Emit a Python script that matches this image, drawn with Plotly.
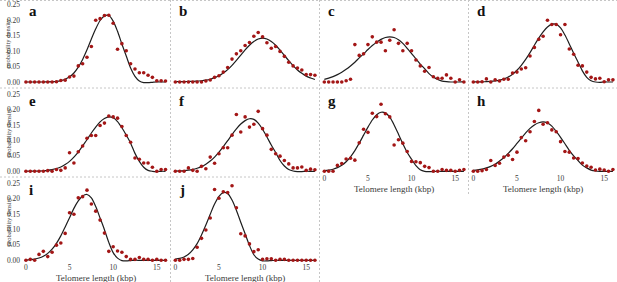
import plotly.graph_objects as go

# ---------------- data ----------------
X_KBP = [0, 0.5, 1, 1.5, 2, 2.5, 3, 3.5, 4, 4.5, 5, 5.5, 6, 6.5, 7, 7.5, 8,
         8.5, 9, 9.5, 10, 10.5, 11, 11.5, 12, 12.5, 13, 13.5, 14, 14.5, 15, 15.5, 16]
PANEL_LABELS = ["a", "b", "c", "d", "e", "f", "g", "h", "i", "j"]
X_TICKS = [0, 5, 10, 15]
X_TICK_LABELS = ["0", "5", "10", "15"]
Y_TICKS = [0.0, 0.05, 0.10, 0.15, 0.20, 0.25]
Y_TICK_LABELS = ["0.00", "0.05", "0.10", "0.15", "0.20", "0.25"]
X_TITLE = "Telomere length (kbp)"
Y_TITLE = "probability density"

dots_a = [0, 0, 0, 0, 0, 0, 0, 0.001, 0.005, 0.006, 0.016, 0.019, 0.052, 0.059, 0.08, 0.115, 0.2,
          0.205, 0.215, 0.216, 0.19, 0.106, 0.124, 0.101, 0.059, 0.042, 0.03, 0.03, 0.022, 0.015, 0.004, 0.004, 0.003]
fit_a = [0, 0, 0, 0, 0.0001, 0.0003, 0.0009, 0.002, 0.0044, 0.0089, 0.0167, 0.029, 0.048, 0.073, 0.104, 0.139, 0.172,
         0.199, 0.214, 0.215, 0.197, 0.164, 0.123, 0.084, 0.045, 0.018, 0.003, -0.002, -0.002, -0.001, 0, 0, 0]

dots_b = [0, 0, 0, 0, 0, 0, 0, 0.003, 0.0065, 0.015, 0.02, 0.032, 0.047, 0.074, 0.091, 0.101, 0.118,
          0.128, 0.148, 0.16, 0.146, 0.127, 0.109, 0.115, 0.099, 0.083, 0.064, 0.052, 0.045, 0.039, 0.024, 0.024, 0.022]
fit_b = [0.001, 0.001, 0.001, 0.002, 0.002, 0.003, 0.004, 0.006, 0.009, 0.014, 0.02, 0.029, 0.04, 0.054, 0.07, 0.087, 0.104,
         0.119, 0.131, 0.139, 0.142, 0.139, 0.131, 0.119, 0.103, 0.086, 0.069, 0.053, 0.039, 0.028, 0.019, 0.013, 0.008]

dots_c = [0, 0, 0, 0, 0, 0.004, 0.009, 0.121, 0.086, 0.091, 0.121, 0.146, 0.129, 0.129, 0.101, 0.135, 0.169,
          0.125, 0.101, 0.125, 0.101, 0.071, 0.052, 0.035, 0.047, 0.017, 0.012, 0.012, 0.023, 0.012, 0.0, 0.007, 0.0]
fit_c = [0.0087, 0.0125, 0.0175, 0.0238, 0.0316, 0.041, 0.052, 0.064, 0.078, 0.091, 0.105, 0.118, 0.129, 0.138, 0.144, 0.146,
         0.144, 0.137, 0.125, 0.109, 0.092, 0.075, 0.058, 0.043, 0.027, 0.016, 0.008, 0.003, 0.001, 0, 0, 0, 0.001]

dots_d = [0, 0, 0.001, 0.01, 0, 0.007, 0.003, 0.009, 0.009, 0.029, 0.032, 0.042, 0.046, 0.084, 0.112, 0.138, 0.148,
          0.2, 0.186, 0.186, 0.153, 0.186, 0.107, 0.09, 0.054, 0.052, 0.032, 0.015, 0.01, 0.012, 0.001, 0.007, 0.007]
fit_d = [0.0001, 0.0003, 0.0005, 0.001, 0.0018, 0.0034, 0.006, 0.01, 0.016, 0.025, 0.038, 0.054, 0.073, 0.095, 0.119, 0.142,
         0.162, 0.178, 0.187, 0.187, 0.175, 0.152, 0.123, 0.093, 0.065, 0.036, 0.015, 0.004, 0.0, -0.001, 0, 0, 0]

dots_e = [0, 0, 0, 0, 0, 0.002, 0, 0.006, 0.003, 0.011, 0.06, 0.027, 0.063, 0.082, 0.107, 0.116, 0.116,
          0.148, 0.156, 0.179, 0.176, 0.172, 0.145, 0.116, 0.094, 0.043, 0.039, 0.027, 0.027, 0.013, 0.0, 0.006, 0.006]
fit_e = [0.0001, 0.0003, 0.0005, 0.0009, 0.0017, 0.0031, 0.0054, 0.009, 0.014, 0.022, 0.032, 0.046, 0.062, 0.082, 0.102, 0.124,
         0.143, 0.16, 0.171, 0.176, 0.173, 0.161, 0.141, 0.117, 0.091, 0.058, 0.032, 0.013, 0.003, 0, -0.001, 0, 0]

dots_f = [0, 0, 0, 0.011, 0.003, 0, 0.016, 0.008, 0.046, 0.026, 0.057, 0.076, 0.076, 0.117, 0.184, 0.127, 0.176,
          0.143, 0.152, 0.194, 0.138, 0.117, 0.071, 0.057, 0.049, 0.035, 0.024, 0.011, 0.011, 0.014, 0.003, 0.007, 0.005]
fit_f = [0.0006, 0.0012, 0.0021, 0.0037, 0.0061, 0.0099, 0.015, 0.023, 0.033, 0.046, 0.062, 0.08, 0.099, 0.119, 0.137, 0.153,
         0.164, 0.17, 0.168, 0.156, 0.136, 0.111, 0.085, 0.061, 0.035, 0.017, 0.006, 0.001, -0.001, -0.001, 0, 0, 0]

dots_g = [0, 0, 0, 0.019, 0.025, 0.04, 0.042, 0.036, 0.092, 0.136, 0.126, 0.188, 0.177, 0.217, 0.186, 0.176, 0.085,
          0.102, 0.091, 0.064, 0.032, 0.031, 0.028, 0.016, 0.012, 0, 0, 0.006, 0.003, 0.003, 0, 0.003, 0.006]
fit_g = [0.0019, 0.0037, 0.0067, 0.0118, 0.0196, 0.031, 0.047, 0.067, 0.091, 0.117, 0.143, 0.166, 0.183, 0.191, 0.189, 0.175,
         0.15, 0.12, 0.089, 0.061, 0.039, 0.018, 0.005, 0, -0.001, -0.001, 0, 0, 0, 0, 0, 0, 0]

dots_h = [0, 0, 0.002, 0.006, 0.035, 0.019, 0.026, 0.046, 0.052, 0.038, 0.062, 0.109, 0.099, 0.128, 0.161, 0.197, 0.152,
          0.157, 0.134, 0.128, 0.096, 0.064, 0.062, 0.043, 0.041, 0.027, 0.017, 0.013, 0.004, 0.007, 0.004, 0, 0.006]
fit_h = [0.0027, 0.0045, 0.007, 0.0109, 0.016, 0.023, 0.033, 0.044, 0.058, 0.073, 0.09, 0.107, 0.124, 0.139, 0.15, 0.157,
         0.16, 0.156, 0.146, 0.129, 0.11, 0.089, 0.068, 0.05, 0.035, 0.02, 0.011, 0.004, 0.001, 0, 0, 0, 0]

dots_i = [0, 0.003, 0, 0.019, 0.029, 0.012, 0.026, 0.049, 0.056, 0.087, 0.154, 0.149, 0.202, 0.206, 0.227, 0.182, 0.159,
          0.13, 0.088, 0.029, 0.044, 0.03, 0.026, 0.012, 0.003, 0.003, 0.009, 0.003, 0.003, 0, 0.003, 0, 0]
fit_i = [0.0009, 0.0019, 0.0038, 0.0073, 0.0132, 0.0224, 0.036, 0.055, 0.079, 0.108, 0.138, 0.168, 0.192, 0.208, 0.213, 0.202,
         0.174, 0.137, 0.099, 0.058, 0.025, 0.007, -0.001, -0.002, -0.001, 0, 0, 0, 0, 0, 0, 0, 0]

dots_j = [0, 0, 0.003, 0.003, 0.006, 0.042, 0.071, 0.098, 0.137, 0.229, 0.201, 0.222, 0.219, 0.241, 0.17, 0.086, 0.079,
          0.053, 0.028, 0.034, 0.003, 0.005, 0.005, 0, 0.003, 0.003, 0, 0, 0, 0, 0, 0, 0]
fit_j = [0.004, 0.006, 0.0106, 0.0196, 0.034, 0.054, 0.082, 0.114, 0.149, 0.182, 0.207, 0.219, 0.216, 0.195, 0.162, 0.123,
         0.086, 0.048, 0.018, 0.004, -0.002, -0.002, -0.001, 0, 0, 0, 0, 0, 0, 0, 0, 0, 0]

DOTS = [dots_a, dots_b, dots_c, dots_d, dots_e, dots_f, dots_g, dots_h, dots_i, dots_j]
FITS = [fit_a, fit_b, fit_c, fit_d, fit_e, fit_f, fit_g, fit_h, fit_i, fit_j]

# ---------------- layout / style ----------------
W, H = 617, 282
COLS_PX = [(22, 169), (171.4, 318.4), (320.4, 467.4), (469.4, 616.4)]
ROWS_PX = [(0.1, 85.7), (89.4, 175.0), (178.4, 264.0)]
GRID_POS = [(0, 0), (0, 1), (0, 2), (0, 3), (1, 0), (1, 1), (1, 2), (1, 3), (2, 0), (2, 1)]
SERIF = "Liberation Serif"
DOT_COLOR = "#a31616"
LINE_COLOR = "#1e1e1e"
DIV_COLOR = "#c6c6c6"
TEXT_COLOR = "#3a3a3a"

fig = go.Figure()
layout = {}
annotations = []
shapes = []

for k, label in enumerate(PANEL_LABELS):
    n = k + 1
    r, c = GRID_POS[k]
    sfx = "" if n == 1 else str(n)
    xa, ya = "x" + sfx, "y" + sfx
    fig.add_trace(go.Scatter(x=X_KBP, y=FITS[k], mode="lines",
                             line=dict(color=LINE_COLOR, width=1.2, shape="spline", smoothing=0.8),
                             xaxis=xa, yaxis=ya, showlegend=False, hoverinfo="skip"))
    fig.add_trace(go.Scatter(x=X_KBP, y=DOTS[k], mode="markers", cliponaxis=False,
                             marker=dict(color=DOT_COLOR, size=3.6),
                             xaxis=xa, yaxis=ya, showlegend=False))
    x0p, x1p = COLS_PX[c]
    y0p, y1p = ROWS_PX[r]
    bottom = (r == 2) or label in ("g", "h")
    layout["xaxis" + sfx] = dict(
        domain=[x0p / W, x1p / W], range=[-0.45, 16.4], anchor=ya,
        tickvals=X_TICKS, ticktext=X_TICK_LABELS, showticklabels=bottom,
        ticks="", ticklabelstandoff=-3,
        showgrid=False, zeroline=False, showline=False,
        tickfont=dict(family=SERIF, size=7.5, color=TEXT_COLOR))
    layout["yaxis" + sfx] = dict(
        domain=[1 - y1p / H, 1 - y0p / H], range=[-0.012, 0.265], anchor=xa,
        tickvals=Y_TICKS, ticktext=Y_TICK_LABELS, showticklabels=(c == 0),
        ticks="", ticklabelstandoff=1,
        showgrid=False, zeroline=False, showline=False,
        tickfont=dict(family=SERIF, size=7.5, color=TEXT_COLOR))
    annotations.append(dict(text="<b>%s</b>" % label, xref=xa + " domain", yref=ya + " domain",
                            x=0.035, y=0.985, xanchor="left", yanchor="top", showarrow=False,
                            font=dict(family=SERIF, size=15, color="#111111")))
    if bottom:
        annotations.append(dict(text=X_TITLE, xref="paper", yref="paper",
                                x=(x0p + x1p) / 2 / W, y=1 - (y1p + 14.3) / H,
                                xanchor="center", yanchor="middle", showarrow=False,
                                font=dict(family=SERIF, size=9, color=TEXT_COLOR)))
    if c == 0:
        annotations.append(dict(text=Y_TITLE, xref="paper", yref="paper",
                                x=8 / W, y=1 - (y0p + y1p) / 2 / H, textangle=-90,
                                xanchor="center", yanchor="middle", showarrow=False,
                                font=dict(family=SERIF, size=6.5, color=TEXT_COLOR)))

# dashed cell dividers (paper pixels)
DIVIDERS = [
    (0, 0.5, 617, 0.5),
    (0, 88, 617, 88),
    (0, 177, 319.5, 177),
    (170.5, 0, 170.5, 282),
    (319.5, 0, 319.5, 282),
    (468.5, 0, 468.5, 196),
]
for (xa0, ya0, xa1, ya1) in DIVIDERS:
    shapes.append(dict(type="line", xref="paper", yref="paper",
                       x0=xa0 / W, x1=xa1 / W, y0=1 - ya0 / H, y1=1 - ya1 / H, layer="below",
                       line=dict(color=DIV_COLOR, width=1, dash="2px,2px")))

fig.update_layout(width=W, height=H, margin=dict(l=0, r=0, t=0, b=0),
                  paper_bgcolor="white", plot_bgcolor="white",
                  annotations=annotations, shapes=shapes, **layout)
fig.write_html("out.html", config={"displayModeBar": False},
               post_script="document.body.style.margin='0';document.body.style.overflow='hidden';")
